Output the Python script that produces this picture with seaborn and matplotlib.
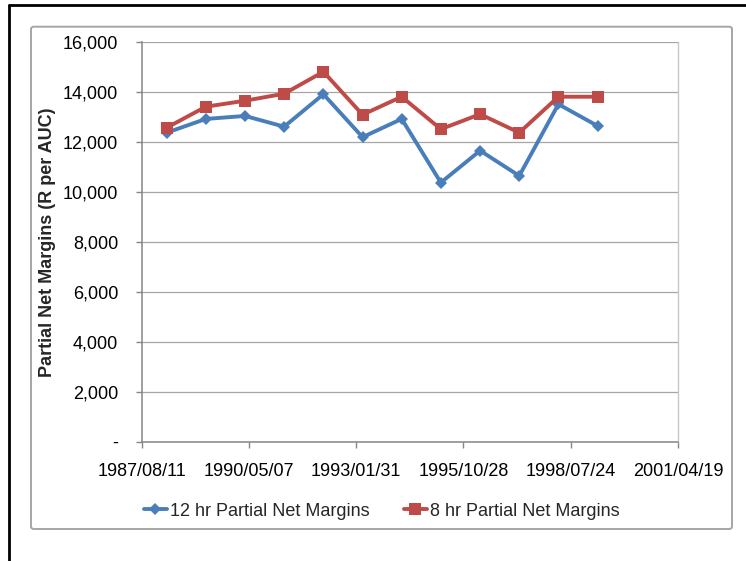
import matplotlib
matplotlib.use("Agg")
import matplotlib.pyplot as plt
import matplotlib.dates as mdates
from matplotlib.ticker import FuncFormatter, FixedLocator
from matplotlib.lines import Line2D
from matplotlib.patches import FancyBboxPatch
import pandas as pd
import seaborn as sns

# Season end dates (31 March each year)
dates = ["1988-03-31", "1989-03-31", "1990-03-31", "1991-03-31", "1992-03-31",
         "1993-03-31", "1994-03-31", "1995-03-31", "1996-03-31", "1997-03-31",
         "1998-03-31", "1999-03-31"]

margins_12hr = [12380, 12930, 13050, 12620, 13920, 12200,
                12930, 10380, 11660, 10650, 13520, 12650]
margins_8hr = [12580, 13420, 13660, 13940, 14820, 13100,
               13820, 12520, 13120, 12380, 13820, 13820]

series_names = ["12 hr Partial Net Margins", "8 hr Partial Net Margins"]
series_colors = ["#4A7EBB", "#BE4B48"]

x_ticks = ["1987-08-11", "1990-05-07", "1993-01-31", "1995-10-28",
           "1998-07-24", "2001-04-19"]
y_ticks = [0, 2000, 4000, 6000, 8000, 10000, 12000, 14000, 16000]

df = pd.DataFrame({
    "date": pd.to_datetime(dates * 2),
    "value": margins_12hr + margins_8hr,
    "series": [series_names[0]] * len(dates) + [series_names[1]] * len(dates),
})

sns.set_style("white")
plt.rcParams["font.family"] = ["Liberation Sans", "DejaVu Sans"]

W, H = 746, 561
fig = plt.figure(figsize=(W / 100, H / 100), dpi=100)
ax = fig.add_axes([141.7 / W, 1 - 441.7 / H, 536.3 / W, 399.4 / H])

sns.lineplot(
    data=df, x="date", y="value", hue="series", style="series",
    hue_order=series_names, style_order=series_names,
    palette=dict(zip(series_names, series_colors)),
    markers={series_names[0]: "D", series_names[1]: "s"},
    dashes=False, linewidth=2.8, markersize=6.5, markeredgewidth=0,
    ax=ax, zorder=3,
)
for line in ax.get_lines():
    if line.get_marker() == "D":
        line.set_markersize(6.2)
    elif line.get_marker() == "s":
        line.set_markersize(8)

# Axes ranges and ticks
tick_dates = pd.to_datetime(x_ticks)
ax.set_xlim(tick_dates[0], tick_dates[-1])
ax.xaxis.set_major_locator(FixedLocator(mdates.date2num(tick_dates)))
ax.xaxis.set_major_formatter(mdates.DateFormatter("%Y/%m/%d"))
ax.set_ylim(0, 16000)
ax.set_yticks(y_ticks)
ax.yaxis.set_major_formatter(FuncFormatter(lambda v, p: "-" if v == 0 else f"{int(v):,}"))

ax.grid(axis="y", color="#A6A6A6", linewidth=0.9, zorder=0)
ax.grid(axis="x", visible=False)
ax.set_axisbelow(True)

for side in ["left", "bottom"]:
    ax.spines[side].set_color("#868686")
    ax.spines[side].set_linewidth(1.1)
ax.spines["top"].set_visible(False)
ax.spines["right"].set_color("#C8C8C8")
ax.spines["right"].set_linewidth(1.0)

ax.tick_params(axis="both", direction="out", length=4, width=1, color="#868686",
               labelsize=13, labelcolor="black")
ax.tick_params(axis="y", pad=13, left=True)
ax.tick_params(axis="x", pad=11, bottom=True)

ax.set_xlabel("")
ax.set_ylabel("Partial Net Margins (R per AUC)", fontsize=13, fontweight="bold")
ax.yaxis.set_label_coords((56 - 141.7) / 536.3, 0.5)

# Legend below the plot area
handles, labels = ax.get_legend_handles_labels()
ax.get_legend().remove()
fig.legend(handles, labels, loc="center", bbox_to_anchor=(381.5 / W, 1 - 511 / H),
           ncol=2, frameon=False, fontsize=13, handlelength=1.3,
           handletextpad=0.15, columnspacing=1.9)

# Chart frame
frame = FancyBboxPatch((31 / W, 1 - 529 / H), (732 - 31) / W, (529 - 26.7) / H,
                       boxstyle="round,pad=0,rounding_size=0.004",
                       transform=fig.transFigure, fill=False,
                       edgecolor="#A6A6A6", linewidth=1.4, zorder=0)
fig.add_artist(frame)

# Black page border on top and left
fig.add_artist(Line2D([8.5 / W, 1.0], [1 - 4.5 / H, 1 - 4.5 / H],
                      transform=fig.transFigure, color="black", linewidth=2.0))
fig.add_artist(Line2D([8.5 / W, 8.5 / W], [0.0, 1 - 4.5 / H],
                      transform=fig.transFigure, color="black", linewidth=2.0))

fig.savefig("out.png", dpi=100)
